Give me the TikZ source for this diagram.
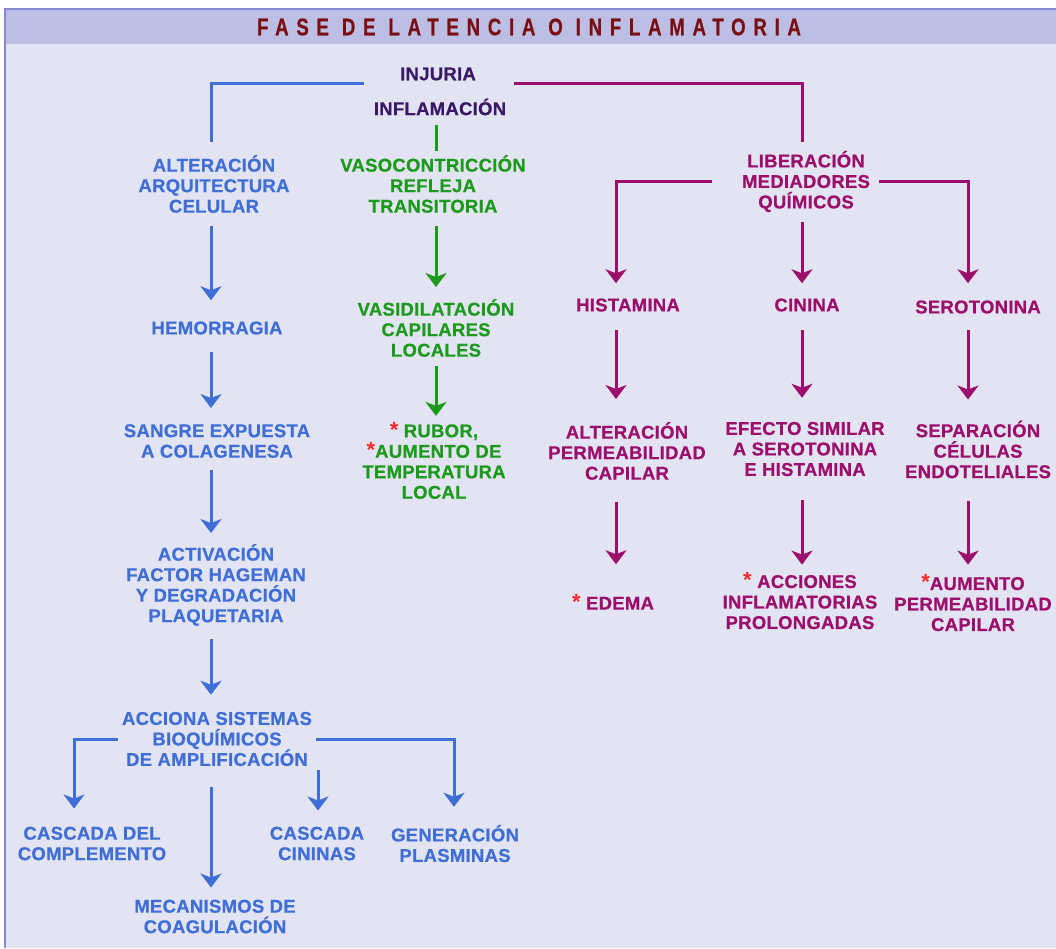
\documentclass[tikz,border=0pt]{standalone}
\usepackage{fontspec}
\usetikzlibrary{arrows.meta}
\setmainfont{Liberation Sans}
\newfontfamily\labfont[LetterSpace=1.5,FakeBold=0.6]{Liberation Sans Bold}
\newfontfamily\ttlfont[LetterSpace=32,FakeStretch=0.78,FakeBold=0.5]{Liberation Sans Bold}
\newfontfamily\starfont{Liberation Sans Bold}
\definecolor{bl}{HTML}{3E6ED6}
\definecolor{gr}{HTML}{1C9A1C}
\definecolor{mg}{HTML}{9C0E6C}
\definecolor{dp}{HTML}{3A1868}
\definecolor{ttlc}{HTML}{7A0E12}
\definecolor{barc}{HTML}{BCBEE4}
\definecolor{bodyc}{HTML}{E2E3F3}
\definecolor{edgec}{HTML}{8589D2}
\definecolor{astc}{HTML}{FF2A2A}
\newcommand\redstar{{\color{astc}\starfont\fontsize{22}{20}\selectfont *}}
\begin{document}
\begin{tikzpicture}[x=1pt,y=-1pt,
  lab/.style={font=\labfont\fontsize{18.5}{20.5}\selectfont, align=center, inner sep=0pt},
  blab/.style={lab,text=bl}, glab/.style={lab,text=gr}, mlab/.style={lab,text=mg}, dlab/.style={lab,text=dp},
  tip/.style={-{Stealth[length=14pt,width=21pt,inset=4pt]}},
  bline/.style={draw=bl,line width=3pt}, gline/.style={draw=gr,line width=3pt}, mline/.style={draw=mg,line width=3pt},
  barr/.style={bline,tip}, garr/.style={gline,tip}, marr/.style={mline,tip}]
\useasboundingbox (0,0) rectangle (1056,948);
\fill[white] (0,0) rectangle (1056,948);
\fill[bodyc] (4,8) rectangle (1056,948);
\fill[barc] (4,8) rectangle (1056,44);
\draw[edgec,line width=2pt] (5,948) -- (5,9) -- (1056,9);
\node[font=\ttlfont\fontsize{24}{24}\selectfont, text=ttlc, inner sep=0pt] (title) at (529,27) {FASE DE LATENCIA O INFLAMATORIA};

% columns
\coordinate (cB) at (211,0);
\coordinate (cG) at (436,0);
\coordinate (cH) at (616,0);
\coordinate (cC) at (802,0);
\coordinate (cS) at (968,0);
\coordinate (cL) at (74,0);
\coordinate (cK) at (318,0);
\coordinate (cP) at (454,0);

% top
\node[dlab] (inj) at (438,74) {INJURIA};
\node[dlab] (infl) at (440,107) {INFLAMACIÓN};

% blue
\node[blab] (alt) at (214,184) {ALTERACIÓN\\ARQUITECTURA\\CELULAR};
\node[blab] (hem) at (217,328) {HEMORRAGIA};
\node[blab] (sang) at (217,441) {SANGRE EXPUESTA\\A COLAGENESA};
\node[blab] (act) at (216,585) {ACTIVACIÓN\\FACTOR HAGEMAN\\Y DEGRADACIÓN\\PLAQUETARIA};
\node[blab] (acc) at (217,739) {ACCIONA SISTEMAS\\BIOQUÍMICOS\\DE AMPLIFICACIÓN};
\node[blab] (comp) at (92,843.5) {CASCADA DEL\\COMPLEMENTO};
\node[blab] (cin2) at (317,843.5) {CASCADA\\CININAS};
\node[blab] (plas) at (455,843.5) {GENERACIÓN\\PLASMINAS};
\node[blab] (coag) at (215,916.5) {MECANISMOS DE\\COAGULACIÓN};

% green
\node[glab] (vaso) at (433,184) {VASOCONTRICCIÓN\\REFLEJA\\TRANSITORIA};
\node[glab] (vasi) at (436,328) {VASIDILATACIÓN\\CAPILARES\\LOCALES};
\node[glab] (rub) at (434,460.5) {\redstar{} RUBOR,\\\redstar AUMENTO DE\\TEMPERATURA\\LOCAL};

% magenta
\node[mlab] (lib) at (806,181.5) {LIBERACIÓN\\MEDIADORES\\QUÍMICOS};
\node[mlab] (hist) at (628,305) {HISTAMINA};
\node[mlab] (cin) at (807,305) {CININA};
\node[mlab] (sero) at (978,307) {SEROTONINA};
\node[mlab] (alt2) at (627,451) {ALTERACIÓN\\PERMEABILIDAD\\CAPILAR};
\node[mlab] (efe) at (805,449) {EFECTO SIMILAR\\A SEROTONINA\\E HISTAMINA};
\node[mlab] (sep) at (978,449.5) {SEPARACIÓN\\CÉLULAS\\ENDOTELIALES};
\node[mlab] (ede) at (613,602) {\redstar{} EDEMA};
\node[mlab] (acci) at (800,601) {\redstar{} ACCIONES\\INFLAMATORIAS\\PROLONGADAS};
\node[mlab] (aum) at (973,603) {\redstar AUMENTO\\PERMEABILIDAD\\CAPILAR};

% connectors from injuria
\draw[bline, shorten <=36pt, shorten >=13pt] ([yshift=-9pt]inj.west) -| (alt.north -| cB);
\draw[mline, shorten <=38pt, shorten >=9pt] ([yshift=-9pt]inj.east) -| (lib.north -| cC);
\draw[gline, shorten <=10pt, shorten >=4pt] (infl.south -| cG) -- (vaso.north -| cG);

% blue arrows
\draw[barr, shorten <=13pt, shorten >=21pt] (alt.south -| cB) -- (hem.north -| cB);
\draw[barr, shorten <=17pt, shorten >=16pt] (hem.south -| cB) -- (sang.north -| cB);
\draw[barr, shorten <=12pt, shorten >=11pt] (sang.south -| cB) -- (act.north -| cB);
\draw[barr, shorten <=13pt, shorten >=17pt] (act.south -| cB) -- (acc.north -| cB);
\draw[barr, shorten <=4pt, shorten >=18pt] (acc.west) -| (comp.north -| cL);
\draw[barr, shorten <=4pt, shorten >=18pt] (acc.east) -| (plas.north -| cP);
\draw[barr, shorten <=4pt, shorten >=16pt] (acc.south -| cK) -- (cin2.north -| cK);
\draw[barr, shorten <=21pt, shorten >=12pt] (acc.south -| cB) -- (coag.north -| cB);

% green arrows
\draw[garr, shorten <=13pt, shorten >=12pt] (vaso.south -| cG) -- (vasi.north -| cG);
\draw[garr, shorten <=9pt, shorten >=6pt] (vasi.south -| cG) -- (rub.north -| cG);

% magenta arrows
\draw[marr, shorten <=30pt, shorten >=15pt] (lib.west) -| (hist.north -| cH);
\draw[marr, shorten <=9pt, shorten >=17pt] (lib.east) -| (sero.north -| cS);
\draw[marr, shorten <=10pt, shorten >=15pt] (lib.south -| cC) -- (cin.north -| cC);
\draw[marr, shorten <=18pt, shorten >=23pt] (hist.south -| cH) -- (alt2.north -| cH);
\draw[marr, shorten <=18pt, shorten >=24pt] (cin.south -| cC) -- (efe.north -| cC);
\draw[marr, shorten <=16pt, shorten >=21pt] (sero.south -| cS) -- (sep.north -| cS);
\draw[marr, shorten <=22pt, shorten >=30pt] (alt2.south -| cH) -- (ede.north -| cH);
\draw[marr, shorten <=24pt, shorten >=8pt] (efe.south -| cC) -- (acci.north -| cC);
\draw[marr, shorten <=23pt, shorten >=10pt] (sep.south -| cS) -- (aum.north -| cS);
\end{tikzpicture}
\end{document}
